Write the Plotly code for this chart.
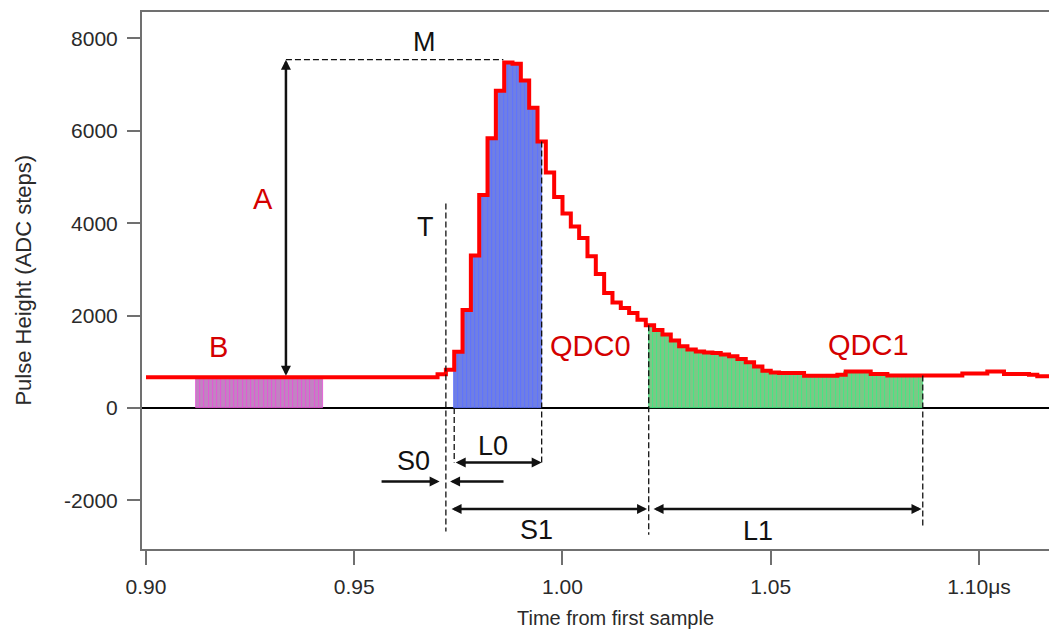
import plotly.graph_objects as go

# ---------------- data ----------------
# step edges of the sampled pulse (time in us) and the ADC level held after each edge
step_times = [0.900, 0.970, 0.972, 0.974, 0.976, 0.978, 0.980, 0.982, 0.984, 0.986,
              0.988, 0.990, 0.992, 0.994, 0.996, 0.998, 1.000, 1.002, 1.004, 1.006,
              1.008, 1.010, 1.012, 1.014, 1.016, 1.018, 1.020, 1.022, 1.024, 1.026,
              1.028, 1.030, 1.032, 1.034, 1.036, 1.038, 1.040, 1.042, 1.044, 1.046,
              1.048, 1.050, 1.052, 1.058, 1.066, 1.068, 1.074, 1.078, 1.096, 1.102,
              1.106, 1.112, 1.114]
step_levels = [665, 730, 830, 1220, 2120, 3300, 4610, 5840, 6870, 7480,
               7450, 7090, 6500, 5770, 5100, 4570, 4210, 3930, 3680, 3285,
               2900, 2490, 2285, 2165, 2055, 1910, 1790, 1690, 1590, 1460,
               1340, 1265, 1225, 1205, 1190, 1160, 1120, 1060, 990, 900,
               810, 770, 760, 700, 720, 790, 740, 705, 750, 790,
               740, 720, 690]
trace_end = 1.120

# integration windows (us)
baseline_window = [0.912, 0.9425]
qdc0_window = [0.974, 0.995]
qdc1_window = [1.0207, 1.0865]
trigger_time = 0.972

# axis ticks
x_tickvals = [0.90, 0.95, 1.00, 1.05, 1.10]
x_ticktext = ["0.90", "0.95", "1.00", "1.05", "1.10\u03bcs"]
y_tickvals = [-2000, 0, 2000, 4000, 6000, 8000]
y_ticktext = ["-2000", "0", "2000", "4000", "6000", "8000"]

# ---------------- geometry of the explanatory marks ----------------
amp_x = 0.9336
m_level = 7540
m_end_x = 0.9858
l0_y = -1180
s0_y = -1587
s_row_y = -2184

RED = "#ff0000"
LABEL_RED = "#d40000"
INK = "#111111"
FONT = "Liberation Sans, Arial, sans-serif"


def level_at(t):
    v = step_levels[0]
    for et, lv in zip(step_times, step_levels):
        if et <= t + 1e-12:
            v = lv
        else:
            break
    return v


def window_bars(win, fill, stripe, name):
    n = max(1, round((win[1] - win[0]) / 0.001))
    w = (win[1] - win[0]) / n
    xs = [win[0] + w * (i + 0.5) for i in range(n)]
    ys = [level_at(x) for x in xs]
    return go.Bar(x=xs, y=ys, width=w, name=name, showlegend=False,
                  marker=dict(color=fill, line=dict(color=stripe, width=0.8)),
                  hoverinfo="skip")


fig = go.Figure()
fig.add_trace(window_bars(baseline_window, "#c283c2", "#e64fd6", "B"))
fig.add_trace(window_bars(qdc0_window, "#6f7fe4", "#5a70ff", "QDC0"))
fig.add_trace(window_bars(qdc1_window, "#7cc786", "#3ce880", "QDC1"))

fig.add_trace(go.Scatter(x=step_times + [trace_end],
                         y=step_levels + [step_levels[-1]],
                         mode="lines", line=dict(color=RED, width=4, shape="hv"),
                         showlegend=False, hoverinfo="skip"))

dash = "6px,3px"
vlines = [
    (trigger_time, 4430, -2670),
    (qdc0_window[0], 0, l0_y),
    (qdc0_window[1], level_at(qdc0_window[1] - 1e-4), l0_y),
    (qdc1_window[0], level_at(qdc1_window[0]), -2740),
    (qdc1_window[1], level_at(qdc1_window[1]), -2550),
]
for x, y0, y1 in vlines:
    fig.add_shape(type="line", x0=x, x1=x, y0=y0, y1=y1, xref="x", yref="y",
                  line=dict(color=INK, width=1.3, dash=dash))
fig.add_shape(type="line", x0=amp_x, x1=m_end_x, y0=m_level, y1=m_level,
              xref="x", yref="y", line=dict(color=INK, width=1.3, dash=dash))


def arrow(x_head, y_head, x_tail, y_tail, both=True):
    fig.add_annotation(x=x_head, y=y_head, ax=x_tail, ay=y_tail,
                       xref="x", yref="y", axref="x", ayref="y", text="",
                       showarrow=True, arrowhead=2, arrowsize=0.8, arrowwidth=2.5,
                       arrowcolor=INK, arrowside="end+start" if both else "end",
                       startarrowhead=2, startarrowsize=0.8)


arrow(amp_x, m_level, amp_x, step_levels[0])
arrow(qdc0_window[1], l0_y, qdc0_window[0], l0_y)
arrow(0.9705, s0_y, 0.9562, s0_y, both=False)
arrow(0.9730, s0_y, 0.9862, s0_y, both=False)
arrow(1.0203, s_row_y, 0.9730, s_row_y)
arrow(1.0862, s_row_y, 1.0215, s_row_y)


def label(x, y, text, color, size):
    fig.add_annotation(x=x, y=y, xref="x", yref="y", text=text, showarrow=False,
                       font=dict(family=FONT, size=size, color=color),
                       xanchor="center", yanchor="middle")


label(0.9281, 4525, "A", LABEL_RED, 29)
label(0.9174, 1332, "B", LABEL_RED, 29)
label(1.0068, 1347, "QDC0", LABEL_RED, 29)
label(1.0734, 1369, "QDC1", LABEL_RED, 29)
label(0.9668, 7920, "M", INK, 27)
label(0.9672, 3926, "T", INK, 27)
label(0.9834, -830, "L0", INK, 27)
label(0.9642, -1155, "S0", INK, 27)
label(0.9938, -2631, "S1", INK, 27)
label(1.0470, -2668, "L1", INK, 27)

# axis titles
fig.add_annotation(x=0.518, y=-0.1285, xref="paper", yref="paper",
                   text="Time from first sample", showarrow=False,
                   font=dict(family=FONT, size=20, color="#2a2a2a"),
                   xanchor="center", yanchor="middle")
fig.add_annotation(x=-0.13, y=0.5, xref="paper", yref="paper",
                   text="Pulse Height (ADC steps)", showarrow=False, textangle=-90,
                   font=dict(family=FONT, size=22, color="#2a2a2a"),
                   xanchor="center", yanchor="middle")

# the page body adds an 8px offset, so the figure is 8px smaller on each side
axis_col = "#707070"
fig.update_layout(
    width=1049, height=623,
    margin=dict(l=134, r=0, t=4, b=82, autoexpand=False),
    paper_bgcolor="white", plot_bgcolor="white",
    bargap=0, barmode="overlay",
    font=dict(family=FONT, size=21, color="#2a2a2a"),
    xaxis=dict(range=[0.89904, 1.11873], tickvals=x_tickvals, ticktext=x_ticktext,
               automargin=False,
               showgrid=False, zeroline=False, showline=True, linecolor=axis_col,
               linewidth=2, mirror=True, ticks="outside", ticklen=14, tickwidth=2,
               tickcolor=axis_col, ticklabelstandoff=4),
    yaxis=dict(range=[-3050, 8572], tickvals=y_tickvals, ticktext=y_ticktext,
               automargin=False,
               showgrid=False, zeroline=True, zerolinecolor="#000000", zerolinewidth=1.5,
               showline=True, linecolor=axis_col, linewidth=2, ticks="outside",
               ticklen=13, tickwidth=2, tickcolor=axis_col, ticklabelstandoff=5),
)

fig.write_html("out.html")
